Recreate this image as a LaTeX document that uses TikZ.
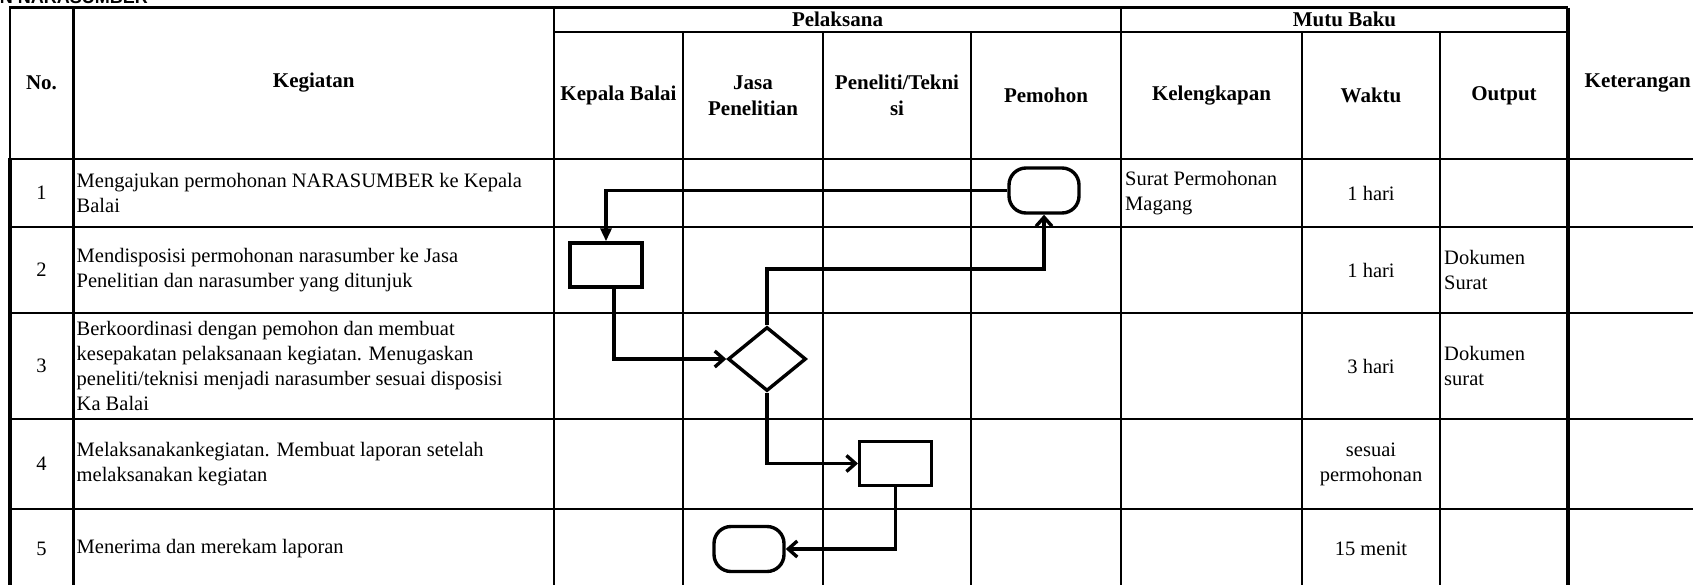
\documentclass[tikz,border=0pt]{standalone}
\usepackage{fontspec}
\setmainfont{Liberation Serif}
\newfontfamily\titlefont{Liberation Sans}
\usetikzlibrary{arrows.meta,shapes.geometric}
\begin{document}
\begin{tikzpicture}[x=1pt,y=-1pt,
  gridline/.style={line width=2.6pt},
  thickline/.style={line width=4pt},
  flow/.style={line width=3.4pt},
  shapebox/.style={draw, line width=3.4pt, inner sep=0pt},
  term/.style={shapebox, rectangle, rounded corners=17pt, minimum width=70pt, minimum height=45pt},
  proc/.style={shapebox, rectangle, minimum width=72pt, minimum height=44pt},
  dec/.style={shapebox, diamond, minimum width=78pt, minimum height=64pt},
  hd/.style={font=\bfseries\fontsize{21}{26}\selectfont, inner sep=0pt, align=center},
  txt/.style={font=\fontsize{20.5}{25}\selectfont, inner sep=0pt, align=left, anchor=west},
  ctxt/.style={font=\fontsize{20.5}{25}\selectfont, inner sep=0pt, align=center},
  barb/.style={-{Straight Barb[length=9pt,width=16pt]}},
  tri/.style={-{Triangle[length=13pt,width=11pt]}}
]
\useasboundingbox (0,0) rectangle (1693,584);
\fill[white] (0,0) rectangle (1693,584);

% title fragment
\node[font=\titlefont\bfseries\fontsize{18}{20}\selectfont, anchor=base east, inner sep=0pt] (title) at (148,3.5) {N NARASUMBER};

% grid: horizontal
\draw[gridline] (9,7.5) -- (1568,7.5);
\draw[gridline] (554,32) -- (1568,32);
\foreach \yy in {159,227,313,419,509} \draw[gridline] (8,\yy) -- (1693,\yy);
% grid: vertical
\draw[gridline] (10,7.5) -- (10,159);
\draw[thickline] (10,159) -- (10,590);
\foreach \xx in {73.5,554,1121} \draw[gridline] (\xx,7.5) -- (\xx,590);
\foreach \xx in {683,823,971,1302,1440} \draw[gridline] (\xx,32) -- (\xx,590);
\draw[thickline] (1568,7.5) -- (1568,590);

% header texts
\node[hd] (hno) at (41.5,83) {No.};
\node[hd] (hkeg) at (313.75,83) {Kegiatan};
\node[hd] (hpel) at (837.5,19.5) {Pelaksana};
\node[hd] (hmutu) at (1344.5,19.5) {Mutu Baku};
\node[hd] (hkb) at (618.5,95.5) {Kepala Balai};
\node[hd] (hjp) at (753,95.5) {Jasa\\Penelitian};
\node[hd] (hpt) at (897,95.5) {Peneliti/Tekni\\si};
\node[hd] (hpm) at (1046,95.5) {Pemohon};
\node[hd] (hkl) at (1211.5,95.5) {Kelengkapan};
\node[hd] (hwk) at (1371,95.5) {Waktu};
\node[hd] (hout) at (1504,95.5) {Output};
\node[hd, anchor=east] (hket) at (1691,83) {Keterangan};

% numbers
\node[ctxt] (n1) at (41.5,193) {1};
\node[ctxt] (n2) at (41.5,270) {2};
\node[ctxt] (n3) at (41.5,366) {3};
\node[ctxt] (n4) at (41.5,464) {4};
\node[ctxt] (n5) at (41.5,548.5) {5};

% activities
\node[txt] (k1) at (76.5,193) {Mengajukan permohonan NARASUMBER ke Kepala\\Balai};
\node[txt] (k2) at (76.5,270) {Mendisposisi permohonan narasumber ke Jasa\\Penelitian dan narasumber yang ditunjuk};
\node[txt] (k3) at (76.5,366) {Berkoordinasi dengan pemohon dan membuat\\kesepakatan pelaksanaan kegiatan. Menugaskan\\peneliti/teknisi menjadi narasumber sesuai disposisi\\Ka Balai};
\node[txt] (k4) at (76.5,464) {Melaksanakankegiatan. Membuat laporan setelah\\melaksanakan kegiatan};
\node[txt] (k5) at (76.5,548.5) {Menerima dan merekam laporan};

% kelengkapan
\node[txt] (l1) at (1125,193) {Surat Permohonan\\Magang};
% waktu
\node[ctxt] (w1) at (1371,193) {1 hari};
\node[ctxt] (w2) at (1371,270) {1 hari};
\node[ctxt] (w3) at (1371,366) {3 hari};
\node[ctxt] (w4) at (1371,464) {sesuai\\permohonan};
\node[ctxt] (w5) at (1371,548.5) {15 menit};
% output
\node[txt] (o2) at (1444,270) {Dokumen\\Surat};
\node[txt] (o3) at (1444,366) {Dokumen\\surat};

% flowchart shapes
\node[term] (t1) at (1044,190.5) {};
\node[proc] (p1) at (606,265) {};
\node[dec] (d1) at (767,359) {};
\node[proc] (p2) at (895.7,463.5) {};
\node[term] (t2) at (749,549) {};

% connectors
\draw[flow,tri] (t1.west) -| (p1.north);
\draw[flow,barb] ([xshift=8pt]p1.south) |- (d1.west);
\coordinate (c1) at (767,269);
\draw[flow,barb] (d1.north) -- (c1) -| (t1.south);
\draw[flow,barb] (d1.south) |- (p2.west);
\draw[flow,barb] (p2.south) |- (t2.east);
\end{tikzpicture}
\end{document}
